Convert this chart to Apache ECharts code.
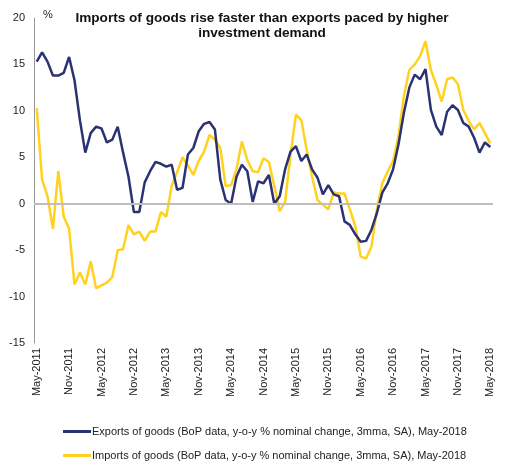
<!DOCTYPE html>
<html>
<head>
<meta charset="utf-8">
<script src="https://cdn.jsdelivr.net/npm/echarts@6/dist/echarts.min.js"></script>
<style>
  html, body { margin: 0; padding: 0; background: #fff; }
  #chart { width: 506px; height: 466px; }
</style>
</head>
<body>
<div id="chart"></div>
<script>
// monthly, May-2011 .. May-2018
const monthNames = ['Jan','Feb','Mar','Apr','May','Jun','Jul','Aug','Sep','Oct','Nov','Dec'];
const months = [];
for (let k = 0; k < 85; k++) {
  const m = (4 + k) % 12, y = 2011 + Math.floor((4 + k) / 12);
  months.push(monthNames[m] + '-' + y);
}

const exportsGoods = [
  15.3, 16.3, 15.3, 13.8, 13.8, 14.1, 15.8, 13.3, 9.0, 5.5,
  7.6, 8.3, 8.1, 6.6, 6.9, 8.3, 5.5, 2.9, -0.9, -0.9,
  2.3, 3.5, 4.5, 4.3, 4.0, 4.2, 1.5, 1.7, 5.3, 6.0,
  7.8, 8.6, 8.8, 8.0, 2.6, 0.4, 0.0, 2.9, 4.2, 3.5,
  0.2, 2.4, 2.2, 3.1, 0.0, 0.8, 3.7, 5.6, 6.2, 4.6,
  5.3, 3.7, 2.8, 1.0, 2.0, 1.0, 0.8, -1.9, -2.3, -3.3,
  -4.1, -4.0, -2.8, -1.0, 1.2, 2.2, 3.7, 6.4, 9.8, 12.5,
  13.9, 13.4, 14.5, 10.1, 8.3, 7.4, 9.9, 10.6, 10.1, 8.7,
  8.3, 7.1, 5.5, 6.6, 6.1
];

const importsGoods = [
  10.3, 2.6, 0.8, -2.7, 3.5, -1.4, -2.7, -8.7, -7.4, -8.7,
  -6.2, -9.1, -8.8, -8.5, -7.9, -5.0, -4.9, -2.3, -3.3, -3.0,
  -4.0, -3.0, -3.0, -0.9, -1.4, 1.9, 3.4, 5.0, 4.1, 3.1,
  4.6, 5.6, 7.4, 6.9, 6.0, 1.9, 2.0, 3.7, 6.7, 4.7,
  3.5, 3.4, 4.9, 4.5, 1.9, -0.8, 0.2, 5.3, 9.6, 9.0,
  5.8, 2.9, 0.4, -0.1, -0.6, 1.2, 1.1, 1.1, -0.6, -2.4,
  -5.7, -5.9, -4.6, -0.6, 2.2, 3.5, 4.6, 7.3, 11.6, 14.4,
  15.0, 15.9, 17.5, 14.4, 12.8, 11.0, 13.4, 13.6, 12.9, 10.1,
  8.9, 8.0, 8.7, 7.6, 6.5
];

const seriesNames = [
  'Exports of goods (BoP data, y-o-y % nominal change, 3mma, SA), May-2018',
  'Imports of goods (BoP data, y-o-y % nominal change, 3mma, SA), May-2018'
];

const font = 'Liberation Sans, Arial, sans-serif';
const chart = echarts.init(document.getElementById('chart'));

function legendAt(top, name) {
  return {
    orient: 'horizontal',
    left: 58,
    top: top,
    itemWidth: 28,
    itemHeight: 3,
    icon: 'rect',
    textStyle: { fontFamily: font, fontSize: 11, color: '#222', padding: [0, 0, 0, -4] },
    data: [name]
  };
}

chart.setOption({
  animation: false,
  title: {
    text: 'Imports of goods rise faster than exports paced by higher\ninvestment demand',
    left: 257,
    textAlign: 'center',
    top: 6,
    textStyle: { fontFamily: font, fontSize: 13.6, fontWeight: 'bold', color: '#111', lineHeight: 15 }
  },
  graphic: [{
    type: 'text', left: 43, top: 9,
    style: { text: '%', font: '11px ' + font, fill: '#222' }
  }],
  grid: { left: 34, right: 13, top: 18, bottom: 123 },
  legend: [legendAt(421, seriesNames[0]), legendAt(445, seriesNames[1])],
  xAxis: {
    type: 'category',
    data: months,
    boundaryGap: true,
    axisLine: { show: false },
    axisTick: { show: false },
    axisLabel: {
      interval: 5,
      rotate: 90,
      margin: 5,
      fontFamily: font,
      fontSize: 11,
      color: '#222'
    }
  },
  yAxis: {
    type: 'value',
    min: -15,
    max: 20,
    interval: 5,
    splitLine: { show: false },
    axisLine: { show: true, lineStyle: { color: '#999', width: 1 } },
    axisTick: { show: false },
    axisLabel: { margin: 9, fontFamily: font, fontSize: 11, color: '#222' }
  },
  series: [
    {
      name: seriesNames[0],
      type: 'line',
      data: exportsGoods,
      symbol: 'none',
      lineStyle: { color: '#2b3272', width: 2.5 },
      itemStyle: { color: '#2b3272' },
      markLine: {
        silent: true,
        symbol: 'none',
        label: { show: false },
        lineStyle: { color: '#bdbdbd', width: 2, type: 'solid' },
        data: [{ yAxis: 0 }]
      },
      z: 3
    },
    {
      name: seriesNames[1],
      type: 'line',
      data: importsGoods,
      symbol: 'none',
      lineStyle: { color: '#ffd21f', width: 2.5 },
      itemStyle: { color: '#ffd21f' },
      z: 2
    }
  ]
});
</script>
</body>
</html>
